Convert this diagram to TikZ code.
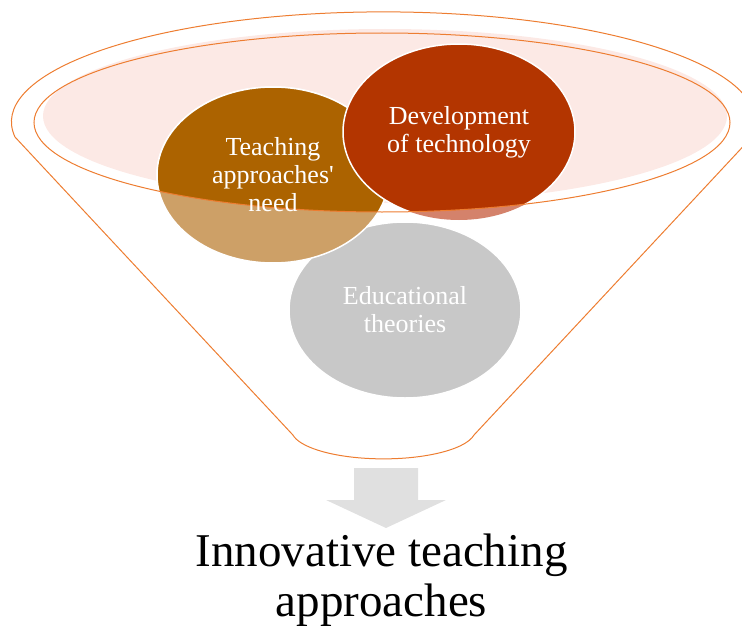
\documentclass[tikz,border=0pt]{standalone}
\usepackage{fontspec}
\setmainfont{Liberation Serif}
\usetikzlibrary{shapes.geometric}
\definecolor{funnelline}{HTML}{ED7D31}
\definecolor{rimfill}{HTML}{FCE9E5}
\definecolor{needbrown}{HTML}{AC6300}
\definecolor{needlight}{HTML}{CDA067}
\definecolor{techred}{HTML}{B33500}
\definecolor{techlight}{HTML}{D4826B}
\definecolor{theorygray}{HTML}{C8C8C8}
\definecolor{arrowgray}{HTML}{E0E0E0}
\tikzset{
  bubble/.style={ellipse, draw=white, line width=1.5pt, minimum width=232pt, minimum height=176pt, inner sep=0pt},
  bubbletext/.style={text=white, align=center, font=\fontsize{26}{28}\selectfont},
  rim/.style={draw=funnelline, line width=1pt}
}

\begin{document}
\begin{tikzpicture}[x=1pt,y=1pt]
            \useasboundingbox (0,0) rectangle (742,-626);
            % pink top of the funnel
            \fill[rimfill] (385,-116) ellipse [x radius=342pt, y radius=87pt];
            % bubbles, lighter below the rim
            \node[bubble, fill=theorygray] (theory) at (405,-310) {};
            \node[bubble, fill=needlight] (need) at (273,-175) {};
            \node[bubble, fill=techlight, draw=none] (tech) at (459,-132) {};
            \begin{scope}
                \clip (382,-122.5) ellipse [x radius=348pt, y radius=89.5pt];
                \node[bubble, fill=needbrown] at (need) {};
                \node[bubble, fill=techred] at (tech) {};
            \end{scope}
            % funnel outline
            \draw[rim] (382,-122.5) ellipse [x radius=348pt, y radius=89.5pt];
            \draw[rim] (15,-137) arc [start angle=187.9, end angle=-7.9, x radius=372pt, y radius=110pt]
                -- (474,-435) arc [start angle=349.8, end angle=190.2, x radius=92pt, y radius=29pt] -- cycle;
            \node[bubbletext] at (need) {Teaching\\approaches\textquotesingle\\need};
            \node[bubbletext] at (tech) {Development\\of technology};
            \node[bubbletext] at (theory) {Educational\\theories};
            % arrow and result
            \fill[arrowgray] (354,-468) -- (418,-468) -- (418,-500) -- (446,-500) -- (386,-528)
                -- (326,-500) -- (354,-500) -- cycle;
            \node[font=\fontsize{47}{50}\selectfont, align=center, anchor=base] (result) at (381.5,-616) {Innovative teaching\\approaches};
        \end{tikzpicture}
\end{document}
